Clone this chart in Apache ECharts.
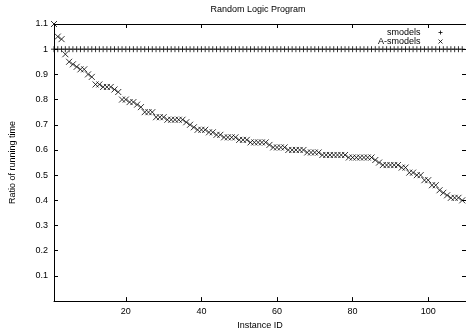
<!DOCTYPE html>
<html>
<head>
<meta charset="utf-8">
<title>Random Logic Program</title>
<script src="https://cdn.jsdelivr.net/npm/echarts@6.0.0/dist/echarts.min.js"></script>
<style>
  html, body { margin: 0; padding: 0; background: #fff; }
  #chart { width: 466px; height: 335px; }
</style>
</head>
<body>
<div id="chart"></div>
<script>
// instance ids 1..109
var instanceIds = [
  1, 2, 3, 4, 5, 6, 7, 8, 9, 10, 11, 12, 13, 14, 15, 16, 17, 18, 19, 20,
  21, 22, 23, 24, 25, 26, 27, 28, 29, 30, 31, 32, 33, 34, 35, 36, 37, 38, 39, 40,
  41, 42, 43, 44, 45, 46, 47, 48, 49, 50, 51, 52, 53, 54, 55, 56, 57, 58, 59, 60,
  61, 62, 63, 64, 65, 66, 67, 68, 69, 70, 71, 72, 73, 74, 75, 76, 77, 78, 79, 80,
  81, 82, 83, 84, 85, 86, 87, 88, 89, 90, 91, 92, 93, 94, 95, 96, 97, 98, 99, 100,
  101, 102, 103, 104, 105, 106, 107, 108, 109
];

// smodels is the baseline (ratio 1)
var smodels = [
  1, 1, 1, 1, 1, 1, 1, 1, 1, 1, 1, 1, 1, 1, 1, 1, 1, 1, 1, 1,
  1, 1, 1, 1, 1, 1, 1, 1, 1, 1, 1, 1, 1, 1, 1, 1, 1, 1, 1, 1,
  1, 1, 1, 1, 1, 1, 1, 1, 1, 1, 1, 1, 1, 1, 1, 1, 1, 1, 1, 1,
  1, 1, 1, 1, 1, 1, 1, 1, 1, 1, 1, 1, 1, 1, 1, 1, 1, 1, 1, 1,
  1, 1, 1, 1, 1, 1, 1, 1, 1, 1, 1, 1, 1, 1, 1, 1, 1, 1, 1, 1,
  1, 1, 1, 1, 1, 1, 1, 1, 1
];

var aSmodels = [
  1.10, 1.05, 1.04, 0.98, 0.95, 0.94, 0.93, 0.92, 0.92, 0.90,
  0.89, 0.86, 0.86, 0.85, 0.85, 0.85, 0.84, 0.83, 0.80, 0.80,
  0.79, 0.79, 0.78, 0.77, 0.75, 0.75, 0.75, 0.73, 0.73, 0.73,
  0.72, 0.72, 0.72, 0.72, 0.72, 0.71, 0.70, 0.69, 0.68, 0.68,
  0.68, 0.67, 0.67, 0.66, 0.66, 0.65, 0.65, 0.65, 0.65, 0.64,
  0.64, 0.64, 0.63, 0.63, 0.63, 0.63, 0.63, 0.62, 0.61, 0.61,
  0.61, 0.61, 0.60, 0.60, 0.60, 0.60, 0.60, 0.59, 0.59, 0.59,
  0.59, 0.58, 0.58, 0.58, 0.58, 0.58, 0.58, 0.58, 0.57, 0.57,
  0.57, 0.57, 0.57, 0.57, 0.57, 0.56, 0.55, 0.54, 0.54, 0.54,
  0.54, 0.54, 0.53, 0.53, 0.51, 0.51, 0.50, 0.50, 0.48, 0.48,
  0.46, 0.46, 0.44, 0.43, 0.42, 0.41, 0.41, 0.41, 0.40
];

var xTicks = [20, 40, 60, 80, 100];

var plusPath = 'path://M0,5L10,5M5,0L5,10';
var crossPath = 'path://M0,0L10,10M10,0L0,10';
var font = '"Liberation Sans", Arial, sans-serif';

function pairs(xs, ys) {
  return xs.map(function (x, i) { return [x, ys[i]]; });
}

function legendFor(name, icon, top) {
  return {
    data: [{ name: name, icon: icon }],
    orient: 'vertical',
    align: 'right',
    right: 21,
    top: top,
    padding: 0,
    itemWidth: 4,
    itemHeight: 4,
    textStyle: { fontSize: 9, color: '#000', fontFamily: font, padding: [0, 13, 0, 0] },
    itemStyle: { color: 'none', borderColor: '#000', borderWidth: 1 }
  };
}

var myChart = echarts.init(document.getElementById('chart'), null, { renderer: 'canvas' });

var axisLine = { show: true, onZero: false, lineStyle: { color: '#000', width: 1 } };
var tick = { show: true, inside: true, length: 4, lineStyle: { color: '#000', width: 1 } };

myChart.setOption({
  animation: false,
  textStyle: { fontFamily: font, color: '#000' },
  title: {
    text: 'Random Logic Program',
    left: 258,
    top: 5,
    padding: 0,
    textAlign: 'center',
    textStyle: { fontSize: 9, fontWeight: 'normal', color: '#000', fontFamily: font }
  },
  legend: [
    legendFor('smodels', plusPath, 28),
    legendFor('A-smodels', crossPath, 37)
  ],
  grid: { left: 51, top: 24, width: 417, height: 280, containLabel: false },
  xAxis: [
    {
      type: 'value',
      position: 'bottom',
      min: 1,
      max: 110,
      name: 'Instance ID',
      nameLocation: 'middle',
      nameGap: 18,
      nameTextStyle: { fontSize: 9, color: '#000', fontFamily: font },
      axisLine: axisLine,
      axisTick: Object.assign({ customValues: xTicks }, tick),
      axisLabel: { customValues: xTicks, fontSize: 9, color: '#000', margin: 6, fontFamily: font },
      splitLine: { show: false }
    },
    {
      type: 'value',
      position: 'top',
      min: 1,
      max: 110,
      axisLine: axisLine,
      axisTick: Object.assign({ customValues: xTicks }, tick),
      axisLabel: { show: false },
      splitLine: { show: false }
    }
  ],
  yAxis: [
    {
      type: 'value',
      position: 'left',
      min: 0,
      max: 1.1,
      interval: 0.1,
      name: 'Ratio of running time',
      nameLocation: 'middle',
      nameGap: 37,
      nameTextStyle: { fontSize: 9, color: '#000', fontFamily: font },
      axisLine: axisLine,
      axisTick: tick,
      axisLabel: {
        fontSize: 9,
        color: '#000',
        margin: 6,
        fontFamily: font,
        formatter: function (v) {
          var r = +v.toFixed(1);
          return r === 0 ? '' : String(r);
        }
      },
      splitLine: { show: false }
    },
    {
      type: 'value',
      position: 'right',
      min: 0,
      max: 1.1,
      interval: 0.1,
      axisLine: axisLine,
      axisTick: tick,
      axisLabel: { show: false },
      splitLine: { show: false }
    }
  ],
  series: [
    {
      name: 'smodels',
      type: 'scatter',
      xAxisIndex: 0,
      yAxisIndex: 0,
      symbol: plusPath,
      symbolSize: 6,
      clip: false,
      itemStyle: { color: 'none', borderColor: '#000', borderWidth: 1 },
      data: pairs(instanceIds, smodels)
    },
    {
      name: 'A-smodels',
      type: 'scatter',
      xAxisIndex: 0,
      yAxisIndex: 0,
      symbol: crossPath,
      symbolSize: 6,
      clip: false,
      itemStyle: { color: 'none', borderColor: '#000', borderWidth: 1 },
      data: pairs(instanceIds, aSmodels)
    }
  ]
});
</script>
</body>
</html>
